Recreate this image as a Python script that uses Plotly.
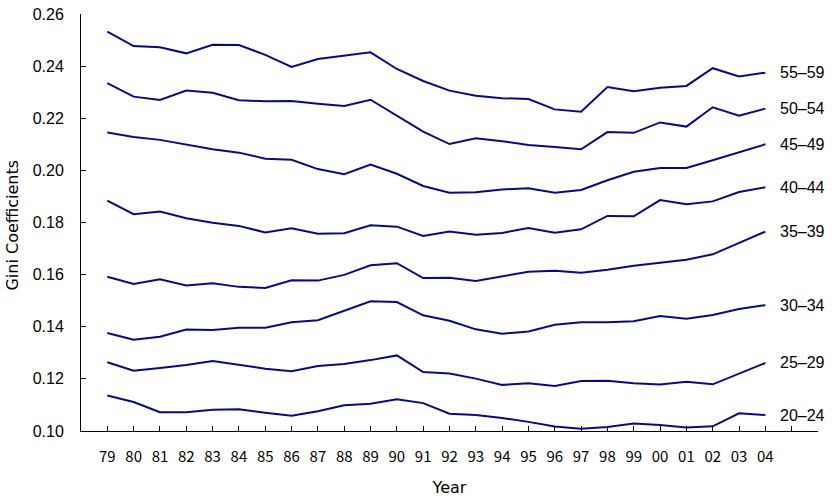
import plotly.graph_objects as go

years = ["79", "80", "81", "82", "83", "84", "85", "86", "87", "88", "89", "90", "91",
         "92", "93", "94", "95", "96", "97", "98", "99", "00", "01", "02", "03", "04"]

g55_59 = [0.2532, 0.2477, 0.2472, 0.2449, 0.2482, 0.2481, 0.2443, 0.2397, 0.2427, 0.2439,
          0.2453, 0.2389, 0.2343, 0.2306, 0.2286, 0.2277, 0.2274, 0.2234, 0.2225, 0.2320,
          0.2304, 0.2317, 0.2324, 0.2392, 0.2360, 0.2375]
g50_54 = [0.2335, 0.2283, 0.2270, 0.2306, 0.2298, 0.2269, 0.2265, 0.2266, 0.2256, 0.2247,
          0.2271, 0.2209, 0.2149, 0.2101, 0.2123, 0.2112, 0.2097, 0.2090, 0.2081, 0.2147,
          0.2144, 0.2184, 0.2168, 0.2242, 0.2210, 0.2237]
g45_49 = [0.2145, 0.2128, 0.2117, 0.2099, 0.2081, 0.2068, 0.2045, 0.2041, 0.2005, 0.1985,
          0.2022, 0.1987, 0.1940, 0.1914, 0.1916, 0.1927, 0.1931, 0.1914, 0.1925, 0.1962,
          0.1995, 0.2009, 0.2009, 0.2039, 0.2069, 0.2100]
g40_44 = [0.1884, 0.1832, 0.1842, 0.1816, 0.1799, 0.1787, 0.1762, 0.1778, 0.1757, 0.1759,
          0.1789, 0.1784, 0.1748, 0.1765, 0.1753, 0.1760, 0.1779, 0.1761, 0.1774, 0.1825,
          0.1824, 0.1886, 0.1870, 0.1881, 0.1917, 0.1935]
g35_39 = [0.1592, 0.1564, 0.1582, 0.1558, 0.1567, 0.1553, 0.1549, 0.1578, 0.1577, 0.1599,
          0.1636, 0.1644, 0.1587, 0.1588, 0.1576, 0.1594, 0.1611, 0.1615, 0.1607, 0.1619,
          0.1634, 0.1646, 0.1657, 0.1678, 0.1723, 0.1765]
g30_34 = [0.1376, 0.1350, 0.1362, 0.1389, 0.1388, 0.1396, 0.1396, 0.1417, 0.1425, 0.1462,
          0.1498, 0.1495, 0.1444, 0.1423, 0.1390, 0.1373, 0.1382, 0.1408, 0.1417, 0.1417,
          0.1421, 0.1441, 0.1431, 0.1445, 0.1468, 0.1483]
g25_29 = [0.1264, 0.1231, 0.1242, 0.1253, 0.1269, 0.1254, 0.1239, 0.1229, 0.1249, 0.1257,
          0.1272, 0.1290, 0.1226, 0.1221, 0.1201, 0.1177, 0.1183, 0.1173, 0.1192, 0.1193,
          0.1183, 0.1178, 0.1189, 0.1179, 0.1219, 0.1261]
g20_24 = [0.1136, 0.1111, 0.1072, 0.1072, 0.1082, 0.1083, 0.1070, 0.1059, 0.1076, 0.1099,
          0.1105, 0.1122, 0.1107, 0.1066, 0.1061, 0.1050, 0.1035, 0.1017, 0.1009, 0.1015,
          0.1029, 0.1023, 0.1013, 0.1018, 0.1068, 0.1061]

series_names = ["55\u201359", "50\u201354", "45\u201349", "40\u201344",
                "35\u201339", "30\u201334", "25\u201329", "20\u201324"]
series_values = [g55_59, g50_54, g45_49, g40_44, g35_39, g30_34, g25_29, g20_24]

y_ticks = [0.10, 0.12, 0.14, 0.16, 0.18, 0.20, 0.22, 0.24, 0.26]

LINE_COLOR = "#0a0a80"
JP_FONT = "Noto Sans CJK JP"
SANS = "Liberation Sans, Arial"

xpos = list(range(len(years)))

fig = go.Figure()
for name, vals in zip(series_names, series_values):
    fig.add_trace(go.Scatter(x=xpos, y=vals, mode="lines", name=name,
                             line=dict(color=LINE_COLOR, width=2), showlegend=False,
                             hoverinfo="skip"))
    fig.add_annotation(x=xpos[-1], y=vals[-1], text=name, showarrow=False,
                       xanchor="left", yanchor="middle", xshift=13,
                       font=dict(family=SANS, size=16, color="black"))

# y-axis title as a rotated annotation
fig.add_annotation(xref="paper", yref="paper", x=-0.0923, y=0.495, text="Gini Coefficients",
                   textangle=-90, showarrow=False, xanchor="center", yanchor="middle",
                   font=dict(family="DejaVu Sans", size=16, color="black"))

tickvals = list(range(-1, len(years) + 2))
ticktext = [""] + years + ["", ""]

fig.update_layout(
    width=832, height=501,
    margin=dict(l=81, r=14, t=14, b=70, autoexpand=False),
    paper_bgcolor="white", plot_bgcolor="white",
    xaxis=dict(range=[-1, len(years) + 1], tickvals=tickvals, ticktext=ticktext,
               ticks="inside", ticklen=5, tickcolor="black", tickwidth=1,
               showline=True, linecolor="black", linewidth=1, showgrid=False,
               zeroline=False, ticklabelstandoff=12, automargin=False,
               tickfont=dict(family=JP_FONT, size=15, color="black"),
               title=dict(text="Year", font=dict(family="DejaVu Sans", size=16, color="black"),
                          standoff=16)),
    yaxis=dict(range=[0.10, 0.26], tickvals=y_ticks, tickformat=".2f",
               ticks="inside", ticklen=5, tickcolor="black", tickwidth=1,
               showline=True, linecolor="black", linewidth=1, showgrid=False,
               zeroline=False, ticklabelstandoff=13, automargin=False,
               tickfont=dict(family=SANS, size=16, color="black")),
)

fig.write_html("out.html", config={"displayModeBar": False},
               post_script="document.body.style.margin='0';document.body.style.overflow='hidden';")
